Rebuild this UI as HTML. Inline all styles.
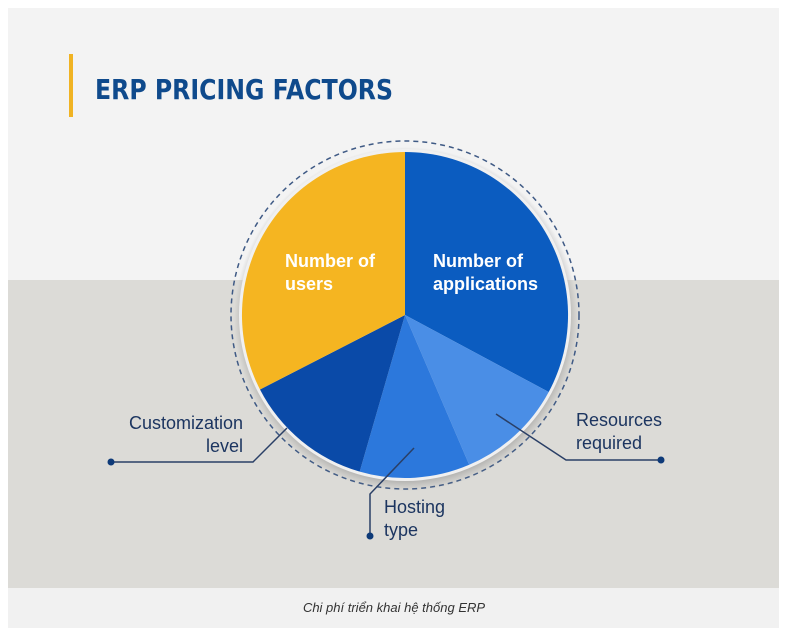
<!DOCTYPE html>
<html><head><meta charset="utf-8"><style>
html,body{margin:0;padding:0;background:#fff;}
body{width:791px;height:636px;position:relative;overflow:hidden;font-family:"Liberation Sans",sans-serif;}
</style></head><body>
<svg width="791" height="636" viewBox="0 0 791 636" xmlns="http://www.w3.org/2000/svg" style="position:absolute;left:0;top:0">
<defs>
<radialGradient id="sh" cx="0.5" cy="0.5" r="0.5">
<stop offset="0.9" stop-color="#777" stop-opacity="0.7"/>
<stop offset="1" stop-color="#888" stop-opacity="0"/>
</radialGradient>
</defs>
<rect x="8" y="8" width="771" height="272" fill="#f3f3f3"/>
<rect x="8" y="280" width="771" height="308" fill="#dcdbd7"/>
<rect x="8" y="588" width="771" height="40" fill="#f1f1f1"/>
<rect x="69" y="54" width="4" height="63" fill="#f0b323"/>
<text x="95" y="99" font-size="28" font-weight="bold" fill="#0f4a8c" textLength="298" lengthAdjust="spacingAndGlyphs" font-family="'DejaVu Sans','Liberation Sans',sans-serif">ERP PRICING FACTORS</text>
<circle cx="405" cy="315" r="174" fill="none" stroke="#3f5a85" stroke-width="1.5" stroke-dasharray="5,4"/>
<circle cx="406" cy="319" r="172" fill="url(#sh)"/>
<circle cx="405" cy="315" r="166" fill="#f0f0f0"/>
<path d="M405,315 L405,152 A163,163 0 0 1 548.7,392 Z" fill="#0b5cc0"/>
<path d="M405,315 L548.7,392 A163,163 0 0 1 469.2,464.8 Z" fill="#4a8ee6"/>
<path d="M405,315 L469.2,464.8 A163,163 0 0 1 359.7,471.6 Z" fill="#2c78dc"/>
<path d="M405,315 L359.7,471.6 A163,163 0 0 1 260,389.5 Z" fill="#0a4aa8"/>
<path d="M405,315 L260,389.5 A163,163 0 0 1 405,152 Z" fill="#f5b521"/>
<g font-size="18" fill="#fff" font-weight="bold">
<text x="285" y="267">Number of</text><text x="285" y="290">users</text>
<text x="433" y="267">Number of</text><text x="433" y="290">applications</text>
</g>
<g stroke="#2a3f66" stroke-width="1.5" fill="none">
<polyline points="111,462 253,462 287,428"/>
<polyline points="370,536 370,494 414,448"/>
<polyline points="661,460 566,460 496,414"/>
</g>
<g fill="#0e3a78">
<circle cx="111" cy="462" r="3.5"/><circle cx="370" cy="536" r="3.5"/><circle cx="661" cy="460" r="3.5"/>
</g>
<g font-size="18" fill="#1c3560">
<text x="243" y="429" text-anchor="end">Customization</text>
<text x="243" y="452" text-anchor="end">level</text>
<text x="576" y="426">Resources</text>
<text x="576" y="449">required</text>
<text x="384" y="513">Hosting</text>
<text x="384" y="536">type</text>
</g>
<text x="394" y="612" font-size="13" font-style="italic" fill="#333" text-anchor="middle">Chi phí triển khai hệ thống ERP</text>
</svg>
</body></html>
